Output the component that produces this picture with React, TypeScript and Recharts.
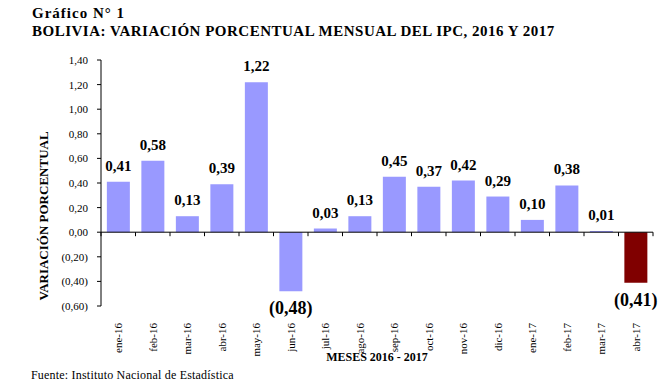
import React from "react";
import {
  BarChart,
  Bar,
  Cell,
  XAxis,
  YAxis,
  LabelList,
  ReferenceLine,
} from "recharts";

const meses = [
  "ene-16", "feb-16", "mar-16", "abr-16", "may-16", "jun-16", "jul-16", "ago-16",
  "sep-16", "oct-16", "nov-16", "dic-16", "ene-17", "feb-17", "mar-17", "abr-17",
];
const variacion = [
  0.41, 0.58, 0.13, 0.39, 1.22, -0.48, 0.03, 0.13,
  0.45, 0.37, 0.42, 0.29, 0.1, 0.38, 0.01, -0.41,
];
const yTicks = [-0.6, -0.4, -0.2, 0, 0.2, 0.4, 0.6, 0.8, 1.0, 1.2, 1.4];
const destacado = "abr-17"; // ultimo mes en rojo

const FONT = "'Liberation Serif', 'Times New Roman', serif";
const AZUL = "#9999ff";
const ROJO = "#800000";

const data = meses.map((mes, i) => ({ mes, valor: variacion[i] }));

function fmt(v: number) {
  const s = Math.abs(v).toFixed(2).replace(".", ",");
  return v < -0.0001 ? `(${s})` : s;
}

function MesTick(props: any) {
  const { x, y, payload } = props;
  return (
    <text
      x={x}
      y={y}
      dy="0.35em"
      transform={`rotate(-90, ${x}, ${y})`}
      textAnchor="end"
      fontFamily={FONT}
      fontSize={11}
      fill="#000"
    >
      {payload.value}
    </text>
  );
}

function ValorLabel(props: any) {
  const x = Number(props.x);
  const y = Number(props.y);
  const w = Number(props.width);
  const h = Number(props.height);
  const value = Number(props.value);
  const top = Math.min(y, y + h);
  const bottom = Math.max(y, y + h);
  const cx = x + w / 2;
  if (value < 0) {
    return (
      <text x={cx} y={bottom + 23} textAnchor="middle" fontFamily={FONT} fontSize={18} fontWeight="bold" fill="#000">
        {fmt(value)}
      </text>
    );
  }
  return (
    <text x={cx} y={top - 11} textAnchor="middle" fontFamily={FONT} fontSize={15} fontWeight="bold" fill="#000">
      {fmt(value)}
    </text>
  );
}

// eje en cero con sus marcas entre categorias
function EjeCero(props: any) {
  const { x1, x2, y1 } = props;
  const n = meses.length;
  const marcas = [];
  for (let k = 0; k <= n; k++) {
    const mx = x1 + ((x2 - x1) * k) / n;
    marcas.push(<line key={k} x1={mx} x2={mx} y1={y1} y2={y1 + 4} stroke="#000" strokeWidth={1} />);
  }
  return (
    <g>
      <line x1={x1} x2={x2} y1={y1} y2={y1} stroke="#000" strokeWidth={1} />
      {marcas}
    </g>
  );
}

export default function App() {
  return (
    <div style={{ position: "absolute", left: 0, top: 0, width: 664, height: 392, background: "#fff" }}>
      <BarChart
        width={664}
        height={392}
        data={data}
        margin={{ top: 60, right: 11, left: 41, bottom: 36 }}
        barCategoryGap="17%"
      >
        <XAxis
          dataKey="mes"
          axisLine={false}
          tickLine={false}
          tickMargin={11}
          height={50}
          interval={0}
          tick={<MesTick />}
        />
        <YAxis
          domain={[-0.6, 1.4]}
          ticks={yTicks}
          width={60}
          tickSize={4}
          tickMargin={9}
          tickFormatter={fmt}
          axisLine={{ stroke: "#000" }}
          tickLine={{ stroke: "#000" }}
          tick={{ fontSize: 11, fill: "#000", fontFamily: FONT }}
          allowDataOverflow
        />
        <Bar dataKey="valor" isAnimationActive={false}>
          {data.map((d) => (
            <Cell key={d.mes} fill={d.mes === destacado ? ROJO : AZUL} />
          ))}
          <LabelList dataKey="valor" content={<ValorLabel />} />
        </Bar>
        <ReferenceLine y={0} shape={(p: any) => <EjeCero {...p} />} />
      </BarChart>
      <svg
        width={664}
        height={392}
        style={{ position: "absolute", left: 0, top: 0, pointerEvents: "none" }}
      >
        <text x={32} y={18} fontFamily={FONT} fontSize={15} letterSpacing={1} fontWeight="bold" fill="#000">
          Gráfico N° 1
        </text>
        <text x={32} y={36} fontFamily={FONT} fontSize={15} letterSpacing={0.5} fontWeight="bold" fill="#000">
          BOLIVIA: VARIACIÓN PORCENTUAL MENSUAL DEL IPC, 2016 Y 2017
        </text>
        <text
          x={48}
          y={216}
          transform="rotate(-90, 48, 216)"
          textAnchor="middle"
          fontFamily={FONT}
          fontSize={13}
          fontWeight="bold"
          fill="#000"
        >
          VARIACIÓN PORCENTUAL
        </text>
        <text x={377} y={361} textAnchor="middle" fontFamily={FONT} fontSize={12} fontWeight="bold" fill="#000">
          MESES 2016 - 2017
        </text>
        <text x={31} y={379} fontFamily={FONT} fontSize={12} letterSpacing={0.2} fill="#000">
          Fuente: Instituto Nacional de Estadística
        </text>
      </svg>
    </div>
  );
}
